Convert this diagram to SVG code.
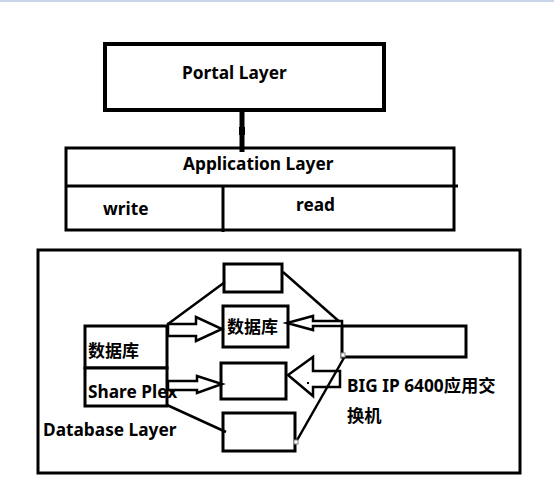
<svg xmlns="http://www.w3.org/2000/svg" width="554" height="486" viewBox="0 0 554 486">
<style>
.t{font-family:"Noto Sans","Noto Sans CJK SC",sans-serif;font-weight:bold;font-size:17.3px;fill:#000}
.b{fill:#fff;stroke:#000;stroke-width:3}
.l{fill:none;stroke:#000;stroke-width:2.5}
.a{fill:#fff;stroke:#000;stroke-width:2.5;stroke-linejoin:miter}
</style>
<rect x="0" y="0" width="554" height="486" fill="#fff"/>
<rect x="0" y="0" width="554" height="2" fill="#c9d5e8"/>
<g id="portal">
<rect x="105" y="44" width="279" height="66" fill="#fff" stroke="#000" stroke-width="4"/>
<text class="t" x="182" y="79">Portal Layer</text>
</g>
<g id="application">
<rect class="b" x="66" y="148" width="388" height="82"/>
<line x1="65" y1="186" x2="458" y2="186" stroke="#000" stroke-width="3"/>
<line x1="223" y1="186" x2="223" y2="232" stroke="#000" stroke-width="3"/>
<text class="t" x="183" y="170">Application Layer</text>
<text class="t" x="103" y="215">write</text>
<text class="t" x="296" y="211">read</text>
</g>
<g id="database">
<rect class="b" x="38" y="250" width="482" height="223"/>
<text class="t" x="43" y="436">Database Layer</text>
</g>
<g id="db-left">
<rect class="b" x="85" y="326" width="82" height="42"/>
<text class="t" x="88" y="357" style="font-size:17px">数据库</text>
</g>
<g id="shareplex">
<rect class="b" x="85" y="368" width="82" height="38"/>
<text class="t" x="88" y="398">Share Plex</text>
</g>
<g id="box-a"><rect class="b" x="224" y="264" width="58" height="28"/></g>
<g id="box-b">
<rect class="b" x="223" y="306" width="65" height="41"/>
<text class="t" x="227" y="333" style="font-size:17px">数据库</text>
</g>
<g id="box-c"><rect class="b" x="221" y="363" width="65" height="36"/></g>
<g id="box-d"><rect class="b" x="223" y="413" width="72" height="38"/></g>
<g id="switch">
<rect class="b" x="342" y="326" width="124" height="31"/>
<text class="t" x="347" y="392">BIG IP 6400应用交</text>
<text class="t" x="347" y="422">换机</text>
</g>
<g id="connectors">
<line x1="242" y1="108" x2="242" y2="152" stroke="#000" stroke-width="5"/>
<rect x="239" y="127" width="6" height="8" fill="#000"/>
<line class="l" x1="168" y1="324" x2="225" y2="282"/>
<polygon class="a" points="168,324 196,324 196,317 222,329 196,341 196,336 168,336"/>
<polygon class="a" points="168,381 197,381 197,376 222,384 197,393 197,390 168,390"/>
<line class="l" x1="167" y1="405" x2="226" y2="432"/>
<line class="l" x1="283" y1="272" x2="342" y2="324"/>
<polygon class="a" points="342,321 313,321 313,316 287,323 313,330 313,326 342,326"/>
<polygon class="a" points="340,371 313,371 313,357 288,375 313,396 313,387 340,387"/>
<rect x="307" y="382" width="2" height="2" fill="#000"/>
<line class="l" x1="345" y1="356" x2="296" y2="442"/>
<rect x="341" y="353" width="4" height="4" fill="#fff" stroke="#888" stroke-width="1"/>
<rect x="294" y="440" width="4" height="4" fill="#fff" stroke="#888" stroke-width="1"/>
</g>
</svg>
